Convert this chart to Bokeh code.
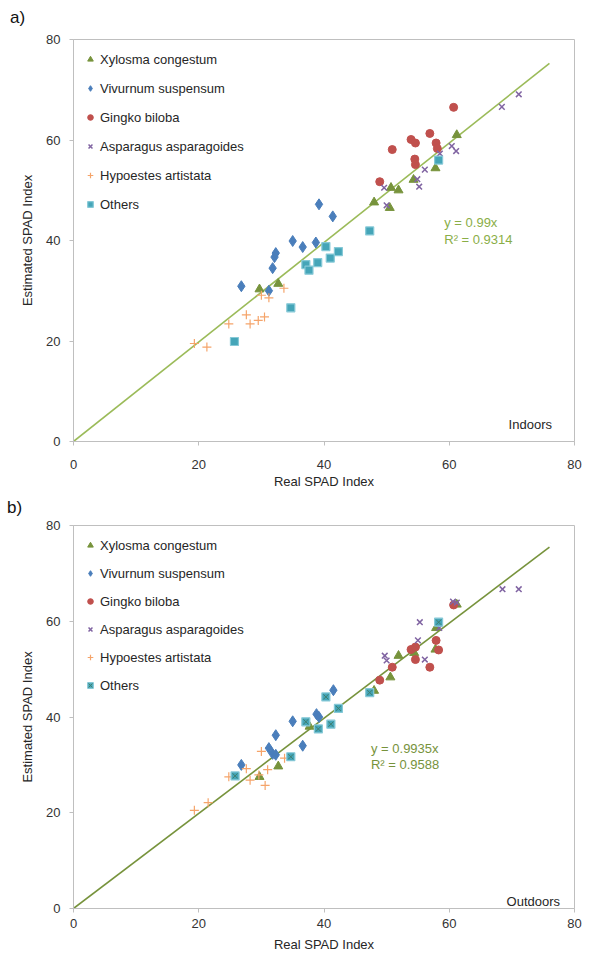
from bokeh.plotting import figure
from bokeh.layouts import column
from bokeh.models import Label, Legend, LegendItem, Range1d, FixedTicker, Div
from bokeh.embed import file_html
from bokeh.resources import INLINE

FONT = "Liberation Sans"

# ---------------- data: Indoors (a) ----------------
xyl_in_x = [29.7, 32.7, 48.0, 50.5, 50.7, 51.9, 54.3, 57.8, 61.2]
xyl_in_y = [30.3, 31.4, 47.6, 46.5, 50.5, 50.0, 52.1, 54.4, 61.0]
viv_in_x = [26.8, 31.2, 31.8, 32.1, 32.3, 35.0, 36.6, 38.7, 39.2, 41.4]
viv_in_y = [30.9, 30.0, 34.5, 36.7, 37.5, 39.9, 38.7, 39.6, 47.2, 44.8]
gin_in_x = [48.9, 50.9, 53.9, 54.5, 54.6, 54.6, 56.9, 57.9, 58.1, 60.7]
gin_in_y = [51.7, 58.1, 60.1, 56.2, 55.1, 59.4, 61.3, 59.4, 58.3, 66.5]
asp_in_x = [49.6, 50.0, 54.9, 55.2, 56.1, 58.5, 60.4, 61.1, 68.4, 71.1]
asp_in_y = [50.5, 47.0, 52.2, 50.7, 54.1, 57.3, 58.8, 57.8, 66.6, 69.1]
hyp_in_x = [19.3, 21.3, 24.8, 27.6, 28.2, 29.5, 30.0, 30.5, 31.2, 33.6]
hyp_in_y = [19.5, 18.8, 23.4, 25.2, 23.4, 24.1, 29.1, 24.8, 28.6, 30.5]
oth_in_x = [25.7, 34.7, 37.1, 37.6, 39.0, 40.3, 41.0, 42.3, 47.3, 58.3]
oth_in_y = [19.9, 26.6, 35.2, 34.1, 35.6, 38.8, 36.5, 37.8, 41.9, 56.0]
slope_in = 0.99
r2_in = 0.9314

# ---------------- data: Outdoors (b) ----------------
xyl_out_x = [29.7, 32.7, 37.7, 48.0, 50.6, 51.9, 54.4, 57.8, 57.9, 61.2]
xyl_out_y = [27.5, 29.7, 38.0, 45.5, 48.3, 52.8, 53.4, 54.1, 58.6, 63.5]
viv_out_x = [26.8, 31.2, 31.8, 32.3, 32.3, 35.0, 36.6, 38.8, 39.2, 41.5]
viv_out_y = [30.0, 33.5, 32.3, 32.1, 36.2, 39.1, 34.0, 40.6, 40.0, 45.6]
gin_out_x = [48.9, 50.9, 53.9, 54.6, 54.6, 56.9, 57.9, 58.3, 60.7]
gin_out_y = [47.7, 50.4, 54.1, 54.6, 52.0, 50.4, 56.0, 54.0, 63.4]
asp_out_x = [49.7, 50.0, 55.0, 55.3, 56.1, 58.4, 60.6, 61.2, 68.5, 71.1]
asp_out_y = [52.8, 51.8, 56.0, 59.8, 52.0, 58.6, 64.1, 63.9, 66.7, 66.7]
hyp_out_x = [19.3, 21.5, 24.8, 27.6, 28.2, 29.6, 30.0, 30.6, 31.0, 33.7]
hyp_out_y = [20.5, 22.1, 27.5, 29.2, 26.8, 27.9, 32.8, 25.7, 29.0, 31.4]
oth_out_x = [25.8, 34.7, 37.1, 39.1, 40.3, 41.1, 42.3, 47.3, 58.3]
oth_out_y = [27.7, 31.7, 39.0, 37.5, 44.2, 38.5, 41.8, 45.1, 59.8]
slope_out = 0.9935
r2_out = 0.9588

species = ["Xylosma congestum", "Vivurnum suspensum", "Gingko biloba",
           "Asparagus asparagoides", "Hypoestes artistata", "Others"]
ticks = [0, 20, 40, 60, 80]
line_end = 76

GREEN = "#77933C"
BLUE = "#4A7EBB"
RED = "#C0504D"
PURPLE = "#8064A2"
ORANGE = "#F5A46A"
TEAL = "#45A5B8"


def make(data, slope, r2, place, height, mb_left, mb_right, mb_top, mb_bottom,
         line_color, eq_color, eq_x, eq_y, place_x, place_y,
         spacing, tick_standoff, label_standoff, others_x):
    p = figure(width=592, height=height, x_range=Range1d(0, 80), y_range=Range1d(0, 80),
               output_backend="svg", toolbar_location=None,
               min_border_left=mb_left, min_border_right=mb_right,
               min_border_top=mb_top, min_border_bottom=mb_bottom)
    p.xgrid.visible = False
    p.ygrid.visible = False
    p.outline_line_color = "#BFBFBF"
    p.outline_line_width = 1
    p.background_fill_color = "white"
    for ax in (p.xaxis[0], p.yaxis[0]):
        ax.ticker = FixedTicker(ticks=ticks)
        ax.minor_tick_line_color = None
        ax.major_tick_in = 0
        ax.major_tick_out = 4
        ax.major_tick_line_color = "#BFBFBF"
        ax.axis_line_color = "#BFBFBF"
        ax.major_label_text_font = FONT
        ax.major_label_text_font_size = "13px"
        ax.major_label_text_color = "#333333"
        ax.axis_label_text_font = FONT
        ax.axis_label_text_font_size = "13px"
        ax.axis_label_text_font_style = "normal"
        ax.axis_label_text_color = "#262626"
    p.xaxis.axis_label = "Real SPAD Index"
    p.yaxis.axis_label = "Estimated SPAD Index"
    p.yaxis.major_label_standoff = 9
    p.xaxis.major_label_standoff = tick_standoff
    p.xaxis.axis_label_standoff = label_standoff
    p.yaxis.axis_label_standoff = 8

    # regression line
    p.line([0, line_end], [0, slope * line_end], line_color=line_color, line_width=1.6)

    (xx, xy), (vx, vy), (gx, gy), (ax_, ay), (hx, hy), (ox, oy) = data
    r1 = p.scatter(xx, xy, marker="triangle", size=9, fill_color=GREEN, line_color=GREEN)
    r2r = p.scatter(vx, vy, marker="diamond", size=11, fill_color=BLUE, line_color=BLUE)
    r3 = p.scatter(gx, gy, marker="circle", size=8, fill_color=RED, line_color=RED)
    r4 = p.scatter(ax_, ay, marker="x", size=8, line_color=PURPLE, line_width=1.5)
    r5 = p.scatter(hx, hy, marker="cross", size=9, line_color=ORANGE, line_width=1.2)
    r6 = p.scatter(ox, oy, marker="square", size=8, fill_color=TEAL, line_color="#86C9D7",
                   line_width=1.2)
    others = [r6]
    if others_x:
        r7 = p.scatter(ox, oy, marker="x", size=7, line_color="#3F7F6E", line_width=1)
        others.append(r7)

    rends = [[r1], [r2r], [r3], [r4], [r5], others]
    items = [LegendItem(label=s, renderers=r) for s, r in zip(species, rends)]
    leg = Legend(items=items, location="top_left", margin=10, padding=0,
                 glyph_width=14, glyph_height=20, label_height=20, spacing=spacing,
                 label_standoff=3, label_text_font=FONT, label_text_font_size="13px",
                 label_text_color="#262626", border_line_color=None,
                 background_fill_alpha=0)
    p.add_layout(leg)

    p.add_layout(Label(x=eq_x, y=eq_y, text=f"y = {slope}x", text_font=FONT,
                       text_font_size="13px", text_color=eq_color, text_baseline="middle"))
    p.add_layout(Label(x=eq_x, y=eq_y - 3.4, text=f"R² = {r2}", text_font=FONT,
                       text_font_size="13px", text_color=eq_color, text_baseline="middle"))
    p.add_layout(Label(x=place_x, y=place_y, text=place, text_font=FONT,
                       text_font_size="13px", text_color="#262626", text_align="right",
                       text_baseline="alphabetic"))
    return p


def panel_div(text, height, pad_top, pad_left):
    return Div(text=text, width=592, height=height, margin=0,
               styles={"font-family": FONT, "font-size": "17px", "line-height": "17px",
                       "color": "#111111", "padding-top": f"{pad_top}px",
                       "padding-left": f"{pad_left}px", "box-sizing": "border-box",
                       "overflow": "visible"})


data_in = [(xyl_in_x, xyl_in_y), (viv_in_x, viv_in_y), (gin_in_x, gin_in_y),
           (asp_in_x, asp_in_y), (hyp_in_x, hyp_in_y), (oth_in_x, oth_in_y)]
data_out = [(xyl_out_x, xyl_out_y), (viv_out_x, viv_out_y), (gin_out_x, gin_out_y),
            (asp_out_x, asp_out_y), (hyp_out_x, hyp_out_y), (oth_out_x, oth_out_y)]

div_a = panel_div("a)", 30, 9, 10)
p1 = make(data_in, slope_in, r2_in, "Indoors", 467, 68, 9, 9, 56,
          "#9BBB59", "#8AAE47", 59.2, 43.6, 76.4, 3.4, 9, 14, 2, False)
div_b = panel_div("b)", 20, 2, 7)
p2 = make(data_out, slope_out, r2_out, "Outdoors", 437, 73, 18, 8, 45,
          "#77933C", "#77933C", 47.5, 33.4, 77.7, 1.5, 8, 6, 6, True)

layout = column(div_a, p1, div_b, p2, spacing=0)
open("out.html", "w").write(file_html(layout, INLINE))
